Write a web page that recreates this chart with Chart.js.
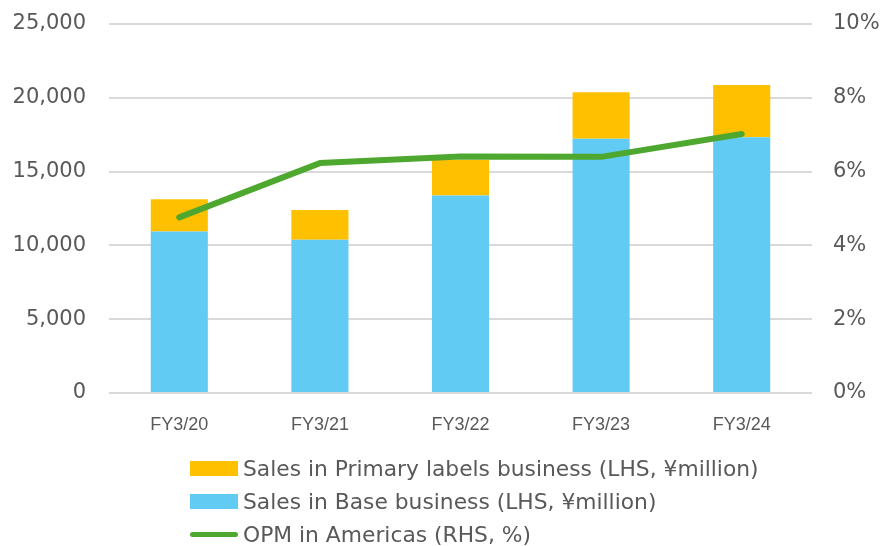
<!DOCTYPE html>
<html>
<head>
<meta charset="utf-8">
<script src="https://cdn.jsdelivr.net/npm/chart.js@4/dist/chart.umd.min.js"></script>
<style>
  html, body { margin: 0; padding: 0; background: #fff; }
  #wrap { position: relative; width: 896px; height: 546px; }
  #legend { position: absolute; left: 190px; top: 452px; font-family: "DejaVu Sans", sans-serif; font-size: 21.8px; color: #595959; }
  .row { height: 33px; display: flex; align-items: center; white-space: nowrap; }
  .sw { width: 48px; margin-right: 5px; flex: none; }
</style>
</head>
<body>
<div id="wrap">
  <canvas id="c" width="896" height="546"></canvas>
  <div id="legend"></div>
</div>
<script>
const categories = ['FY3/20', 'FY3/21', 'FY3/22', 'FY3/23', 'FY3/24'];
const baseSales = [10950, 10390, 13380, 17220, 17330];
const primarySales = [2170, 2010, 2410, 3150, 3530];
const opmAmericas = [4.76, 6.23, 6.41, 6.40, 7.02];

const textColor = '#595959';
const gridColor = '#d9d9d9';

const chart = new Chart(document.getElementById('c'), {
  type: 'bar',
  data: {
    labels: categories,
    datasets: [
      {
        label: 'OPM in Americas (RHS, %)',
        type: 'line',
        data: opmAmericas,
        yAxisID: 'y1',
        borderColor: '#4ea72e',
        backgroundColor: '#4ea72e',
        borderWidth: 6,
        pointRadius: 0,
        tension: 0,
        borderCapStyle: 'round',
        borderJoinStyle: 'round',
        order: 0
      },
      {
        label: 'Sales in Base business (LHS, \u00a5million)',
        data: baseSales,
        backgroundColor: '#61cbf3',
        yAxisID: 'y',
        order: 1
      },
      {
        label: 'Sales in Primary labels business (LHS, \u00a5million)',
        data: primarySales,
        backgroundColor: '#ffc000',
        yAxisID: 'y',
        order: 1
      }
    ]
  },
  options: {
    responsive: false,
    animation: false,
    layout: { padding: { top: 24, bottom: 103, left: 0, right: 0 } },
    datasets: { bar: { categoryPercentage: 1, barPercentage: 0.406 } },
    plugins: { legend: { display: false }, tooltip: { enabled: false } },
    scales: {
      x: {
        stacked: true,
        grid: { display: false, drawTicks: false },
        border: { display: false },
        ticks: { color: textColor, padding: 21, font: { family: '"Liberation Sans", sans-serif', size: 18 } },
        afterFit: s => { s.height = 50; }
      },
      y: {
        stacked: true,
        min: 0, max: 25000,
        ticks: { stepSize: 5000, color: textColor, padding: 23, font: { family: '"DejaVu Sans", sans-serif', size: 21 },
          callback: v => v.toLocaleString('en-US') },
        grid: { color: gridColor, lineWidth: 2, drawTicks: false },
        border: { display: false },
        afterFit: s => { s.width = 109; s.paddingTop = 0; s.paddingBottom = 0; }
      },
      y1: {
        position: 'right',
        min: 0, max: 10,
        ticks: { stepSize: 2, color: textColor, padding: 21, font: { family: '"DejaVu Sans", sans-serif', size: 21 },
          callback: v => v + '%' },
        grid: { display: false, drawTicks: false },
        border: { display: false },
        afterFit: s => { s.width = 84; s.paddingTop = 0; s.paddingBottom = 0; }
      }
    }
  }
});

// legend in Excel order: primary, base, line
const legendEl = document.getElementById('legend');
[2, 1, 0].forEach(i => {
  const ds = chart.data.datasets[i];
  const row = document.createElement('div');
  row.className = 'row';
  const sw = document.createElement('span');
  sw.className = 'sw';
  sw.style.background = ds.type === 'line' ? ds.borderColor : ds.backgroundColor;
  sw.style.height = ds.type === 'line' ? '5px' : '15px';
  if (ds.type === 'line') sw.style.borderRadius = '3px';
  row.appendChild(sw);
  row.appendChild(document.createTextNode(ds.label));
  legendEl.appendChild(row);
});
</script>
</body>
</html>
